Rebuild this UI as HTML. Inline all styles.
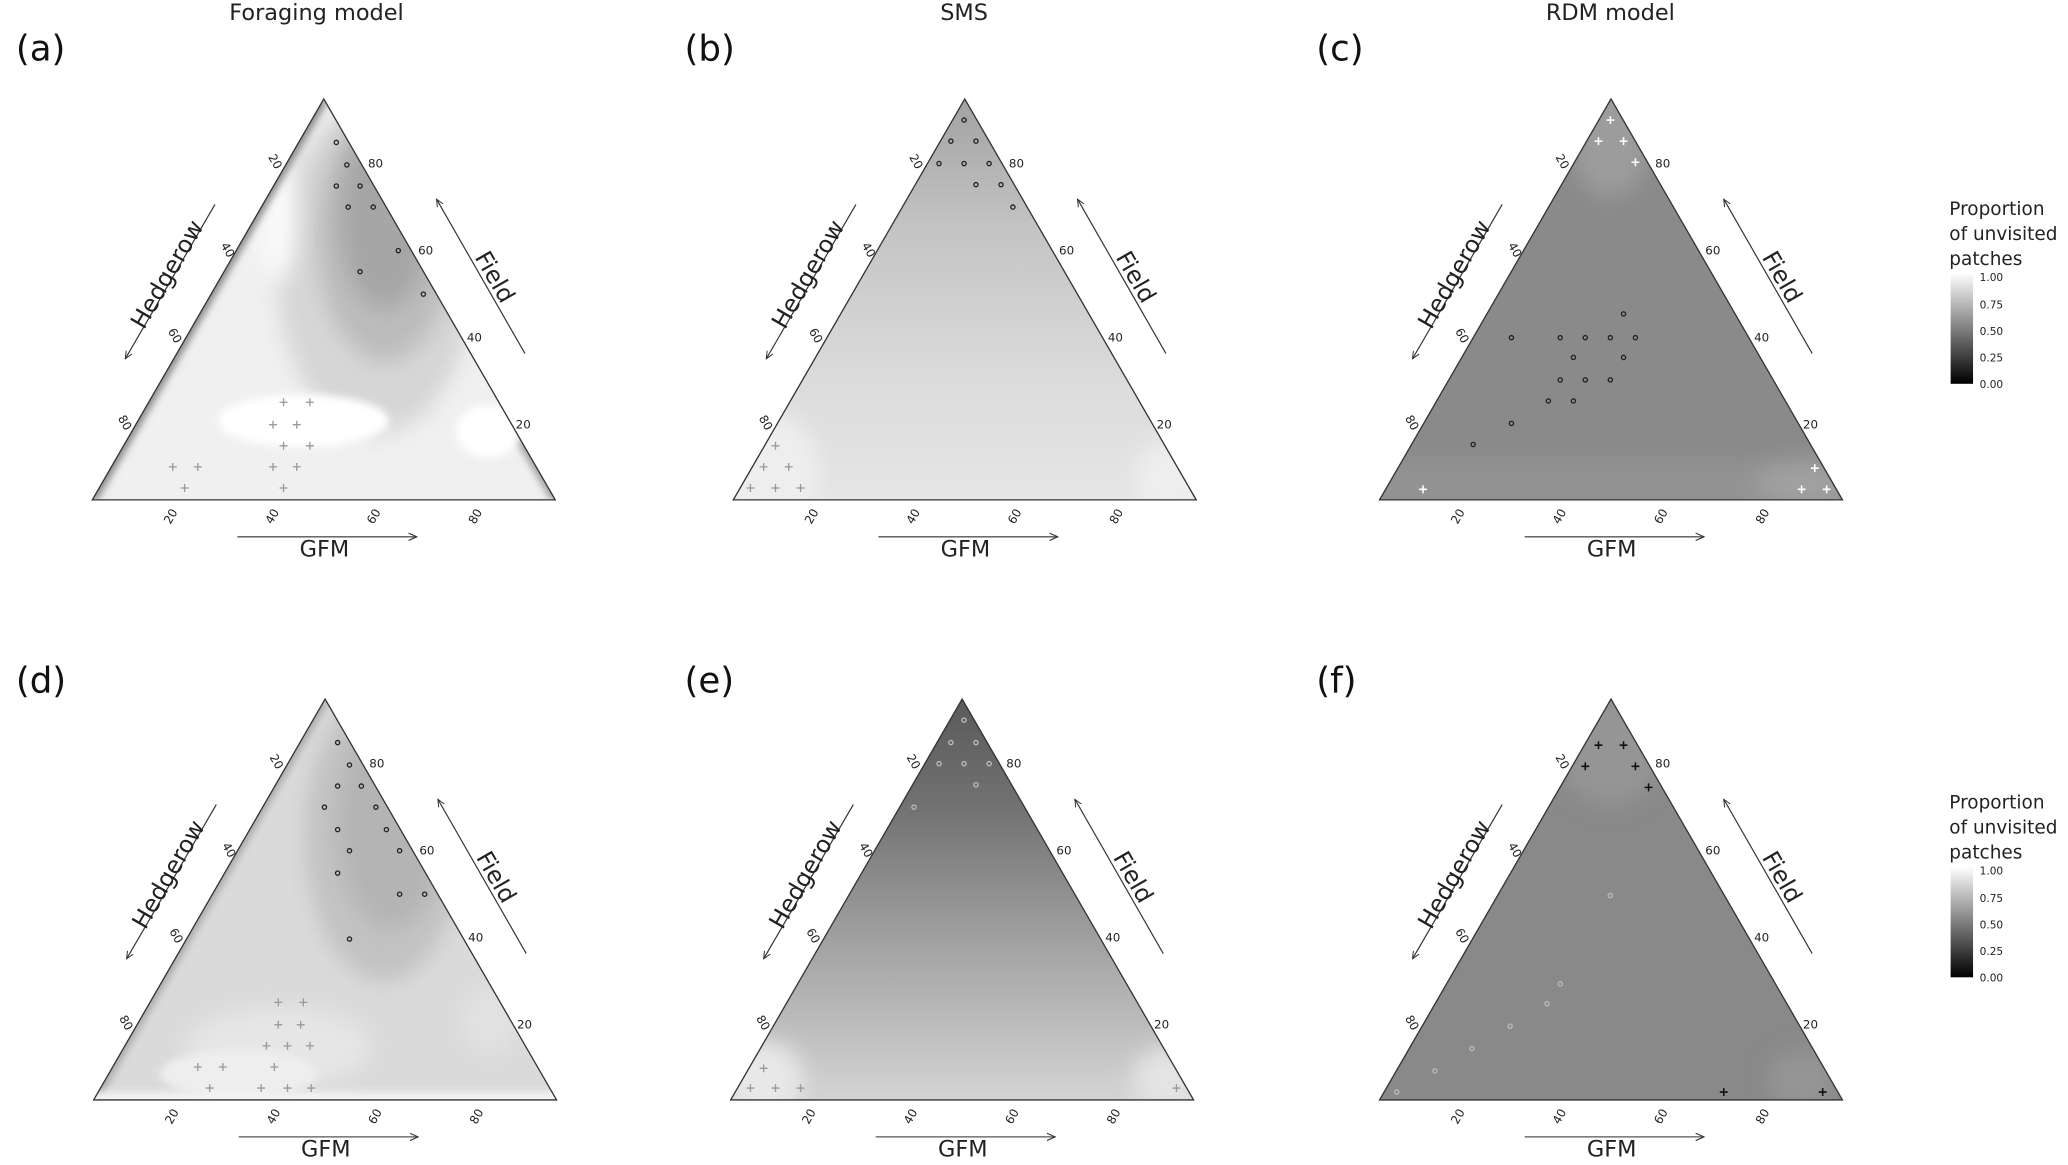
<!DOCTYPE html>
<html><head><meta charset="utf-8"><style>
html,body{margin:0;padding:0;background:#fff;}
svg{display:block;}
text{font-family:"DejaVu Sans","Liberation Sans",sans-serif;}
</style></head><body>
<svg width="2068" height="1165" viewBox="0 0 1568 883.3" xmlns="http://www.w3.org/2000/svg">
<defs>
<clipPath id="tri" clipPathUnits="userSpaceOnUse"><path d="M0,0 L351,0 L175.5,-304 Z"/></clipPath>
<filter id="bl" x="-50%" y="-50%" width="200%" height="200%"><feGaussianBlur stdDeviation="8"/></filter>
<filter id="bl2" x="-50%" y="-50%" width="200%" height="200%"><feGaussianBlur stdDeviation="3"/></filter>
<linearGradient id="gb" x1="0" y1="0" x2="0" y2="1"><stop offset="0" stop-color="#9c9c9c"/><stop offset="0.35" stop-color="#c4c4c4"/><stop offset="0.7" stop-color="#dcdcdc"/><stop offset="1" stop-color="#e6e6e6"/></linearGradient>
<linearGradient id="ge" x1="0" y1="0" x2="0" y2="1"><stop offset="0" stop-color="#555"/><stop offset="0.3" stop-color="#727272"/><stop offset="0.65" stop-color="#a8a8a8"/><stop offset="1" stop-color="#d8d8d8"/></linearGradient>
<linearGradient id="cb" x1="0" y1="0" x2="0" y2="1"><stop offset="0" stop-color="#fff"/><stop offset="1" stop-color="#000"/></linearGradient>
<marker id="ah" viewBox="0 0 10 10" refX="9" refY="5" markerWidth="7" markerHeight="7" orient="auto"><path d="M0,1 L9,5 L0,9" fill="none" stroke="#333" stroke-width="1.2"/></marker>
<g id="axes">
<path d="M0,0 L351,0 L175.5,-304 Z" fill="none" stroke="#333" stroke-width="1"/>
<g font-size="9" fill="#222">
<text transform="translate(62,14) rotate(-60)" text-anchor="middle">20</text>
<text transform="translate(139,14) rotate(-60)" text-anchor="middle">40</text>
<text transform="translate(216,14) rotate(-60)" text-anchor="middle">60</text>
<text transform="translate(293,14) rotate(-60)" text-anchor="middle">80</text>
<text x="321" y="-54">20</text><text x="284" y="-120">40</text><text x="247" y="-186">60</text><text x="209" y="-252">80</text>
<text transform="translate(22,-57) rotate(60)" text-anchor="middle">80</text>
<text transform="translate(60,-123) rotate(60)" text-anchor="middle">60</text>
<text transform="translate(100,-188) rotate(60)" text-anchor="middle">40</text>
<text transform="translate(136,-255) rotate(60)" text-anchor="middle">20</text>
</g>
<line x1="93" y1="-224" x2="25" y2="-107" stroke="#333" stroke-width="0.9" marker-end="url(#ah)"/>
<text transform="translate(62,-168) rotate(-60)" font-size="18" text-anchor="middle" fill="#222">Hedgerow</text>
<line x1="328" y1="-111" x2="261" y2="-228" stroke="#333" stroke-width="0.9" marker-end="url(#ah)"/>
<text transform="translate(300,-166) rotate(60)" font-size="18" text-anchor="middle" fill="#222">Field</text>
<line x1="110" y1="28" x2="246" y2="28" stroke="#555" stroke-width="1" marker-end="url(#ah)"/>
<text x="176" y="43" font-size="17" text-anchor="middle" fill="#222">GFM</text>
</g>
</defs>

<g font-size="17" fill="#222" text-anchor="middle">
<text x="240" y="15">Foraging model</text><text x="731" y="15">SMS</text><text x="1221" y="15">RDM model</text>
</g>
<g font-size="27" fill="#111">
<text x="12" y="46">(a)</text><text x="519" y="46">(b)</text><text x="998" y="46">(c)</text>
<text x="12" y="525">(d)</text><text x="519" y="525">(e)</text><text x="998" y="525">(f)</text>
</g>

<!-- a -->
<g transform="translate(70,379)">
<g clip-path="url(#tri)">
<rect x="-10" y="-320" width="370" height="330" fill="#f0f0f0"/>
<ellipse cx="215" cy="-175" rx="75" ry="125" fill="#d6d6d6" filter="url(#bl)"/>
<ellipse cx="222" cy="-200" rx="52" ry="95" fill="#bcbcbc" filter="url(#bl)"/>
<ellipse cx="222" cy="-215" rx="35" ry="70" fill="#a6a6a6" filter="url(#bl)"/>
<ellipse cx="160" cy="-60" rx="65" ry="20" fill="#fff" filter="url(#bl2)"/>
<ellipse cx="300" cy="-52" rx="24" ry="20" fill="#fff" filter="url(#bl2)"/>
<ellipse cx="140" cy="-210" rx="14" ry="45" fill="#fafafa" filter="url(#bl)"/>
<path d="M0,0 L175.5,-304" stroke="#777" stroke-width="6" filter="url(#bl2)"/>
<path d="M351,0 L325,-45" stroke="#888" stroke-width="5" filter="url(#bl2)"/>
</g>
<use href="#axes"/>
<g fill="none" stroke="#222" stroke-width="1"><circle cx="185" cy="-271" r="1.6"/><circle cx="193" cy="-254" r="1.6"/><circle cx="185" cy="-238" r="1.6"/><circle cx="203" cy="-238" r="1.6"/><circle cx="194" cy="-222" r="1.6"/><circle cx="213" cy="-222" r="1.6"/><circle cx="232" cy="-189" r="1.6"/><circle cx="203" cy="-173" r="1.6"/><circle cx="251" cy="-156" r="1.6"/></g>
<g stroke="#999" stroke-width="1"><path d="M142,-74h6M145,-77v6M162,-74h6M165,-77v6M134,-57h6M137,-60v6M152,-57h6M155,-60v6M142,-41h6M145,-44v6M162,-41h6M165,-44v6M134,-25h6M137,-28v6M152,-25h6M155,-28v6M58,-25h6M61,-28v6M77,-25h6M80,-28v6M67,-9h6M70,-12v6M142,-9h6M145,-12v6"/></g>
</g>

<!-- b -->
<g transform="translate(556,379)">
<g clip-path="url(#tri)">
<rect x="-10" y="-320" width="370" height="330" fill="url(#gb)"/>
<ellipse cx="30" cy="-20" rx="35" ry="45" fill="#eeeeee" filter="url(#bl)"/>
<ellipse cx="330" cy="-15" rx="25" ry="30" fill="#eeeeee" filter="url(#bl)"/>
</g>
<use href="#axes"/>
<g fill="none" stroke="#222" stroke-width="1"><circle cx="175" cy="-288" r="1.6"/><circle cx="165" cy="-272" r="1.6"/><circle cx="184" cy="-272" r="1.6"/><circle cx="156" cy="-255" r="1.6"/><circle cx="175" cy="-255" r="1.6"/><circle cx="194" cy="-255" r="1.6"/><circle cx="184" cy="-239" r="1.6"/><circle cx="203" cy="-239" r="1.6"/><circle cx="212" cy="-222" r="1.6"/></g>
<g stroke="#999" stroke-width="1"><path d="M29,-41h6M32,-44v6M20,-25h6M23,-28v6M39,-25h6M42,-28v6M10,-9h6M13,-12v6M29,-9h6M32,-12v6M48,-9h6M51,-12v6"/></g>
</g>

<!-- c -->
<g transform="translate(1046,379)">
<g clip-path="url(#tri)">
<rect x="-10" y="-320" width="370" height="330" fill="#8a8a8a"/>
<ellipse cx="175" cy="-275" rx="30" ry="45" fill="#9c9c9c" filter="url(#bl)"/>
<rect x="-10" y="-30" width="370" height="40" fill="#939393" filter="url(#bl)"/>
<ellipse cx="320" cy="-12" rx="35" ry="16" fill="#a0a0a0" filter="url(#bl)"/>
</g>
<use href="#axes"/>
<g fill="none" stroke="#222" stroke-width="1"><circle cx="185" cy="-141" r="1.6"/><circle cx="100" cy="-123" r="1.6"/><circle cx="137" cy="-123" r="1.6"/><circle cx="156" cy="-123" r="1.6"/><circle cx="175" cy="-123" r="1.6"/><circle cx="194" cy="-123" r="1.6"/><circle cx="147" cy="-108" r="1.6"/><circle cx="185" cy="-108" r="1.6"/><circle cx="137" cy="-91" r="1.6"/><circle cx="156" cy="-91" r="1.6"/><circle cx="175" cy="-91" r="1.6"/><circle cx="128" cy="-75" r="1.6"/><circle cx="147" cy="-75" r="1.6"/><circle cx="100" cy="-58" r="1.6"/><circle cx="71" cy="-42" r="1.6"/></g>
<g stroke="#fff" stroke-width="1.2"><path d="M172,-288h6M175,-291v6M163,-272h6M166,-275v6M182,-272h6M185,-275v6M191,-256h6M194,-259v6M327,-24h6M330,-27v6M317,-8h6M320,-11v6M336,-8h6M339,-11v6M30,-8h6M33,-11v6"/></g>
</g>

<!-- d -->
<g transform="translate(71,834)">
<g clip-path="url(#tri)">
<rect x="-10" y="-320" width="370" height="330" fill="#dadada"/>
<ellipse cx="220" cy="-200" rx="60" ry="110" fill="#c2c2c2" filter="url(#bl)"/>
<ellipse cx="225" cy="-210" rx="40" ry="80" fill="#b4b4b4" filter="url(#bl)"/>
<ellipse cx="140" cy="-40" rx="70" ry="30" fill="#e6e6e6" filter="url(#bl)"/>
<ellipse cx="110" cy="-20" rx="60" ry="18" fill="#eeeeee" filter="url(#bl2)"/>
<ellipse cx="300" cy="-60" rx="20" ry="25" fill="#e2e2e2" filter="url(#bl)"/>
<path d="M0,0 L175.5,-304" stroke="#999" stroke-width="5" filter="url(#bl2)"/>
<rect x="-10" y="-6" width="370" height="10" fill="#f4f4f4" filter="url(#bl2)"/>
</g>
<use href="#axes"/>
<g fill="none" stroke="#222" stroke-width="1"><circle cx="185" cy="-271" r="1.6"/><circle cx="194" cy="-254" r="1.6"/><circle cx="185" cy="-238" r="1.6"/><circle cx="203" cy="-238" r="1.6"/><circle cx="175" cy="-222" r="1.6"/><circle cx="214" cy="-222" r="1.6"/><circle cx="185" cy="-205" r="1.6"/><circle cx="222" cy="-205" r="1.6"/><circle cx="194" cy="-189" r="1.6"/><circle cx="232" cy="-189" r="1.6"/><circle cx="185" cy="-172" r="1.6"/><circle cx="232" cy="-156" r="1.6"/><circle cx="251" cy="-156" r="1.6"/><circle cx="194" cy="-122" r="1.6"/></g>
<g stroke="#999" stroke-width="1"><path d="M137,-74h6M140,-77v6M156,-74h6M159,-77v6M137,-57h6M140,-60v6M154,-57h6M157,-60v6M128,-41h6M131,-44v6M144,-41h6M147,-44v6M161,-41h6M164,-44v6M134,-25h6M137,-28v6M76,-25h6M79,-28v6M95,-25h6M98,-28v6M85,-9h6M88,-12v6M124,-9h6M127,-12v6M144,-9h6M147,-12v6M162,-9h6M165,-12v6"/></g>
</g>

<!-- e -->
<g transform="translate(554,834)">
<g clip-path="url(#tri)">
<rect x="-10" y="-320" width="370" height="330" fill="url(#ge)"/>
<ellipse cx="25" cy="-15" rx="30" ry="30" fill="#e8e8e8" filter="url(#bl)"/>
<ellipse cx="330" cy="-15" rx="25" ry="25" fill="#e4e4e4" filter="url(#bl)"/>
</g>
<use href="#axes"/>
<g fill="none" stroke="#bbb" stroke-width="1"><circle cx="177" cy="-288" r="1.6"/><circle cx="167" cy="-271" r="1.6"/><circle cx="186" cy="-271" r="1.6"/><circle cx="158" cy="-255" r="1.6"/><circle cx="177" cy="-255" r="1.6"/><circle cx="196" cy="-255" r="1.6"/><circle cx="186" cy="-239" r="1.6"/><circle cx="139" cy="-222" r="1.6"/></g>
<g stroke="#999" stroke-width="1"><path d="M22,-24h6M25,-27v6M12,-9h6M15,-12v6M31,-9h6M34,-12v6M50,-9h6M53,-12v6M335,-9h6M338,-12v6"/></g>
</g>

<!-- f -->
<g transform="translate(1046,834)">
<g clip-path="url(#tri)">
<rect x="-10" y="-320" width="370" height="330" fill="#898989"/>
<ellipse cx="175" cy="-265" rx="40" ry="40" fill="#959595" filter="url(#bl)"/>
<ellipse cx="320" cy="-15" rx="25" ry="22" fill="#959595" filter="url(#bl)"/>
</g>
<use href="#axes"/>
<g fill="none" stroke="#bbb" stroke-width="1"><circle cx="175" cy="-155" r="1.6"/><circle cx="137" cy="-88" r="1.6"/><circle cx="127" cy="-73" r="1.6"/><circle cx="99" cy="-56" r="1.6"/><circle cx="70" cy="-39" r="1.6"/><circle cx="42" cy="-22" r="1.6"/><circle cx="13" cy="-6" r="1.6"/></g>
<g stroke="#111" stroke-width="1.2"><path d="M163,-269h6M166,-272v6M182,-269h6M185,-272v6M153,-253h6M156,-256v6M191,-253h6M194,-256v6M201,-237h6M204,-240v6M258,-6h6M261,-9v6M333,-6h6M336,-9v6"/></g>
</g>

<!-- legends -->
<g font-size="14" fill="#222">
<text x="1478" y="163">Proportion</text><text x="1478" y="182">of unvisited</text><text x="1478" y="201">patches</text>
<text x="1478" y="613">Proportion</text><text x="1478" y="632">of unvisited</text><text x="1478" y="651">patches</text>
</g>
<rect x="1479" y="207" width="17" height="84" fill="url(#cb)"/>
<rect x="1479" y="657" width="17" height="84" fill="url(#cb)"/>
<g font-size="8" fill="#222">
<text x="1501" y="213">1.00</text><text x="1501" y="234">0.75</text><text x="1501" y="254">0.50</text><text x="1501" y="274">0.25</text><text x="1501" y="294">0.00</text>
<text x="1501" y="663">1.00</text><text x="1501" y="684">0.75</text><text x="1501" y="704">0.50</text><text x="1501" y="724">0.25</text><text x="1501" y="744">0.00</text>
</g>
</svg>
</body></html>
